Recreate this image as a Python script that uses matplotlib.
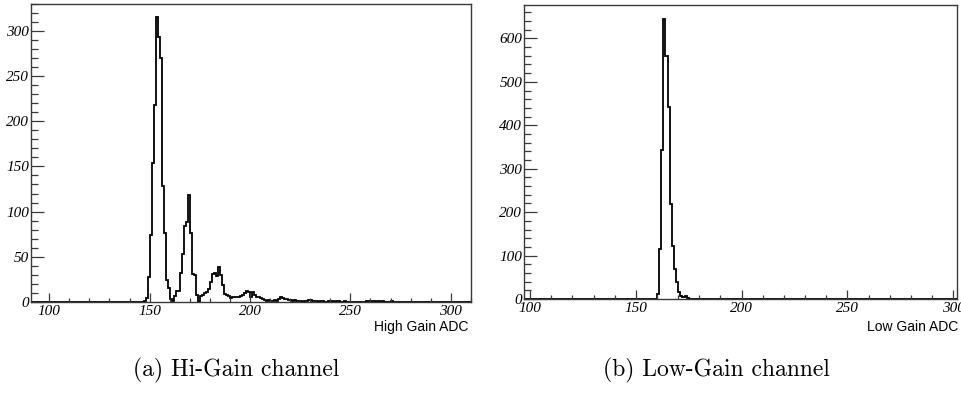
import numpy as np
import matplotlib
matplotlib.use("Agg")
import matplotlib.pyplot as plt
from matplotlib.ticker import MultipleLocator

# ---- High-gain ADC spectrum (1 ADC count per bin) ----
hg_range = (91, 310)          # histogram range
hg_first_bin = 146            # lower edge of first listed bin
hg_counts = [
    0, 1, 4, 28, 74, 154, 218, 315, 293, 270,      # 146-155
    128, 76, 24, 15, 3, 1, 7, 12, 12, 32,          # 156-165
    53, 84, 88, 118, 76, 31, 30, 8, 0, 7,          # 166-175
    8, 10, 11, 14, 22, 31, 32, 29, 39, 30,         # 176-185
    19, 9, 8, 7, 4, 5, 6, 5, 6, 7,                 # 186-195
    8, 10, 12, 11, 5, 11, 8, 6, 5, 4,              # 196-205
    3, 2, 1, 2, 1, 1, 2, 1, 3, 6,                  # 206-215
    4, 3, 3, 2, 2, 1, 2, 1, 1, 1,                  # 216-225
    0, 1, 1, 2, 2, 1, 1, 1, 0, 1,                  # 226-235
    1, 0, 0, 1, 0, 1, 0, 1, 1, 0,                  # 236-245
    0, 1, 0, 0, 0, 0, 0, 0, 0, 0,                  # 246-255
    0, 0, 1, 1, 0, 1, 1, 0, 1, 0,                  # 256-265
    1, 0, 0, 0, 1, 0,                              # 266-271
]

# ---- Low-gain ADC spectrum ----
lg_range = (97, 302)
lg_first_bin = 158
lg_counts = [
    0, 1, 11, 114, 343, 645, 560, 443, 218, 123,   # 158-167
    68, 40, 15, 8, 5, 7, 3, 1, 0,                  # 168-176
]

hg_xlim = (90.9, 310.1)
hg_ylim = (0, 330)
lg_xlim = (97.3, 301.9)
lg_ylim = (0, 677)

x_label_hg = "High Gain ADC"
x_label_lg = "Low Gain ADC"
caption_hg = "(a) Hi-Gain channel"
caption_lg = "(b) Low-Gain channel"


def full_histogram(rng, first_bin, counts):
    edges = np.arange(rng[0], rng[1] + 1)
    values = np.zeros(len(edges) - 1)
    start = first_bin - rng[0]
    values[start:start + len(counts)] = counts
    return edges, values


FRAME = "#3a3a3a"
tick_font = dict(family="Liberation Serif", style="italic", size=11)


def style_axes(ax, xlim, ylim, ymajor, yminor):
    ax.set_xlim(*xlim)
    ax.set_ylim(*ylim)
    for sp in ax.spines.values():
        sp.set_color(FRAME)
        sp.set_linewidth(1.0)
    ax.xaxis.set_major_locator(MultipleLocator(50))
    ax.xaxis.set_minor_locator(MultipleLocator(10))
    ax.yaxis.set_major_locator(MultipleLocator(ymajor))
    ax.yaxis.set_minor_locator(MultipleLocator(yminor))
    ax.tick_params(axis="x", which="major", direction="in", length=6.5,
                   width=0.9, color=FRAME, pad=2.5, top=False)
    ax.tick_params(axis="x", which="minor", direction="in", length=3.0,
                   width=0.9, color=FRAME, top=False)
    ax.tick_params(axis="y", which="major", direction="in", length=9.5,
                   width=0.9, color=FRAME, pad=1.5, right=False)
    ax.tick_params(axis="y", which="minor", direction="in", length=4.8,
                   width=0.9, color=FRAME, right=False)
    for lab in ax.get_xticklabels() + ax.get_yticklabels():
        lab.set_fontfamily(tick_font["family"])
        lab.set_fontstyle(tick_font["style"])
        lab.set_fontsize(tick_font["size"])


fig = plt.figure(figsize=(9.61, 3.96), dpi=100)

ax1 = fig.add_axes([31 / 961, 94 / 396, 440 / 961, 298.3 / 396])
edges, values = full_histogram(hg_range, hg_first_bin, hg_counts)
ax1.stairs(values, edges, color="black", linewidth=1.3, baseline=None)
style_axes(ax1, hg_xlim, hg_ylim, 50, 10)

ax2 = fig.add_axes([524.3 / 961, 97 / 396, 433 / 961, 294 / 396])
edges, values = full_histogram(lg_range, lg_first_bin, lg_counts)
ax2.stairs(values, edges, color="black", linewidth=1.3, baseline=None)
style_axes(ax2, lg_xlim, lg_ylim, 100, 20)

fig.text(468 / 961, 1 - 327 / 396, x_label_hg, ha="right", va="center",
         family="Liberation Sans", size=10)
fig.text(958 / 961, 1 - 327 / 396, x_label_lg, ha="right", va="center",
         family="Liberation Sans", size=10)

fig.text(236.5 / 961, 1 - 370 / 396, caption_hg, ha="center", va="center",
         family="cmr10", size=17)
fig.text(716.5 / 961, 1 - 370 / 396, caption_lg, ha="center", va="center",
         family="cmr10", size=17)

fig.savefig("out.png", dpi=100)
